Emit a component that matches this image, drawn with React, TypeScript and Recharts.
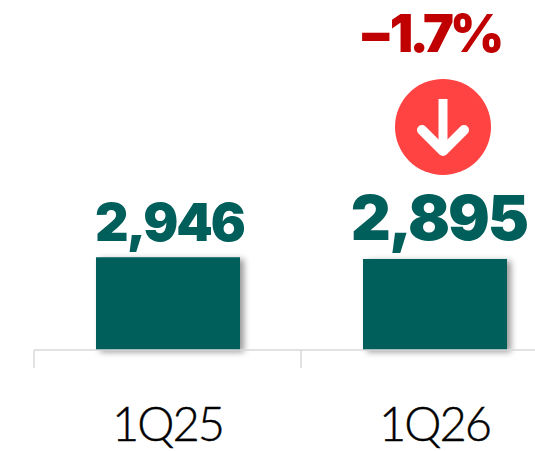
import { BarChart, Bar, XAxis, YAxis, LabelList, Rectangle } from 'recharts';

const categories = ['1Q25', '1Q26'];
const values = [2946, 2895];
const valueLabels = ['2,946', '2,895'];
const changeLabel = '\u22121.7%';

const data = categories.map((name, i) => ({ name, value: values[i], label: valueLabels[i] }));

const TEAL = '#005e5b';
const RED = '#c00000';
const BAND = 267;

function BarShape(props: any) {
  return <Rectangle {...props} style={{ filter: 'drop-shadow(4px 2px 3px rgba(0,0,0,0.4))' }} />;
}

function AxisTick({ x, y, payload }: any) {
  return (
    <g>
      <line x1={x - BAND / 2} x2={x - BAND / 2} y1={y - 8} y2={y + 10} stroke="#d9d9d9" strokeWidth={1.5} />
      <text x={x} y={y + 83} textAnchor="middle" fontFamily="Lato" fontWeight={300} fontSize={47} letterSpacing={-2} stroke="#000" strokeWidth={0.4} fill="#000">
        {payload.value}
      </text>
    </g>
  );
}

// value above each bar, the second one is bigger and carries the change badge
function BarLabel({ x, y, width, index }: any) {
  const cx = x + width / 2;
  if (index === 0) {
    return (
      <text x={cx + 1.5} y={y - 16} textAnchor="middle" fontFamily="Inter" fontWeight={900} fontSize={52} letterSpacing={-2} fill={TEAL}>
        {valueLabels[0]}
      </text>
    );
  }
  const bx = cx + 8;
  const by = y - 132;
  return (
    <g>
      <text x={cx + 4} y={y - 19} textAnchor="middle" fontFamily="Inter" fontWeight={900} fontSize={62} letterSpacing={-2} fill={TEAL}>
        {valueLabels[1]}
      </text>
      <circle cx={bx} cy={by} r={48} fill="#ff4343" />
      <path
        d={`M${bx} ${by - 28}V${by + 24}`}
        fill="none"
        stroke="#fff"
        strokeWidth={9}
      />
      <path
        d={`M${bx - 21} ${by + 3}L${bx} ${by + 24}L${bx + 21} ${by + 3}`}
        fill="none"
        stroke="#fff"
        strokeWidth={10}
        strokeLinejoin="round"
        strokeLinecap="round"
      />
      <text x={cx - 6} y={y - 207} textAnchor="middle" fontFamily="Inter" fontWeight={900} fontSize={52} letterSpacing={-4} fill={RED}>
        {changeLabel}
      </text>
    </g>
  );
}

export default function App() {
  return (
    <div style={{ position: 'absolute', left: 0, top: 0, width: 535, height: 451, overflow: 'hidden', background: '#fff' }}>
      <BarChart width={600} height={451} data={data} margin={{ top: 0, right: 32, bottom: 0, left: 34 }}>
        <YAxis hide domain={[0, 11130]} />
        <XAxis
          dataKey="name"
          axisLine={{ stroke: '#d9d9d9', strokeWidth: 1.5 }}
          tickLine={false}
          tick={<AxisTick />}
          interval={0}
          height={101}
        />
        <Bar dataKey="value" fill={TEAL} barSize={144} isAnimationActive={false} shape={<BarShape />}>
          <LabelList dataKey="label" content={<BarLabel />} />
        </Bar>
      </BarChart>
    </div>
  );
}
